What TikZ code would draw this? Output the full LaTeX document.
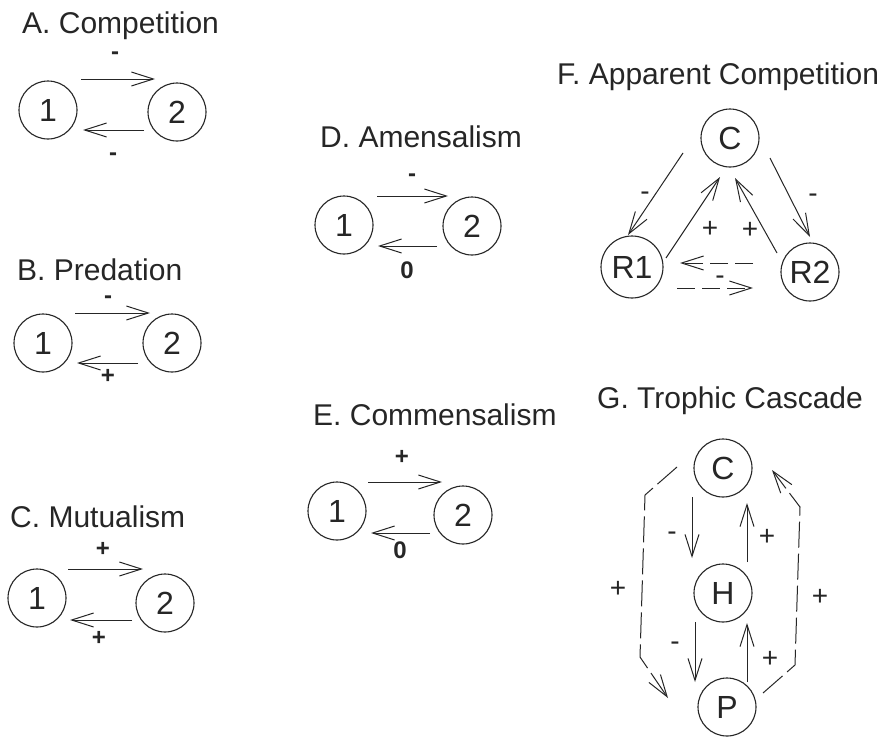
\documentclass[tikz,border=0pt]{standalone}
\usepackage{fontspec}
\setmainfont{Liberation Sans}
\usetikzlibrary{arrows.meta,calc}
\definecolor{ink}{gray}{0.15}
\begin{document}
\begin{tikzpicture}[x=1pt,y=-1pt,
  sp/.style={circle,draw=ink,line width=1.1pt,minimum size=58pt,inner sep=0pt,
             text=ink,font=\fontsize{32}{34}\selectfont},
  ttl/.style={anchor=base west,inner sep=0pt,text=ink,font=\fontsize{30}{32}\selectfont},
  sgn/.style={inner sep=0pt,text height=17pt,text depth=0pt,text=ink,
              font=\bfseries\fontsize{24}{26}\selectfont},
  sgm/.style={sgn,text height=8pt},
  sgnf/.style={inner sep=0pt,text height=20pt,text depth=0pt,text=ink,
               font=\fontsize{28}{30}\selectfont},
  sgmf/.style={sgnf,text height=9pt},
  arr/.style={draw=ink,line width=1pt,
              -{Straight Barb[length=22pt,width=14pt,line width=1pt]}},
  darr/.style={arr,dash pattern=on 18pt off 7pt},
  dgarr/.style={arr,dash pattern=on 26pt off 6pt},
]
\fill[white] (0,0) rectangle (891,742);
\useasboundingbox (0,0) rectangle (891,742);

% ---- A. Competition ----
\node[ttl] (tA) at (22,33) {A. Competition};
\node[sp] (A1) at (48,110) {1};
\node[sp] (A2) at (177,112) {2};
\draw[arr] ($(A1)+(33,-31)$) -- ($(A2)+(-22,-33)$);
\draw[arr] ($(A2)+(-33,18)$) -- ($(A1)+(35,20)$);
\node[sgm] (sA1) at (115,55) {-};
\node[sgm] (sA2) at (113,156) {-};

% ---- B. Predation ----
\node[ttl] (tB) at (17,280) {B. Predation};
\node[sp] (B1) at (43,343) {1};
\node[sp] (B2) at (172,343) {2};
\draw[arr] ($(B1)+(32,-30)$) -- ($(B2)+(-22,-30)$);
\draw[arr] ($(B2)+(-34,20)$) -- ($(B1)+(34,20)$);
\node[sgm] (sB1) at (108,299) {-};
\node[sgn] (sB2) at (108,375) {+};

% ---- C. Mutualism ----
\node[ttl] (tC) at (10,527) {C. Mutualism};
\node[sp] (C1) at (37,598) {1};
\node[sp] (C2) at (165,603) {2};
\draw[arr] ($(C1)+(31,-29)$) -- ($(C2)+(-22,-34)$);
\draw[arr] ($(C2)+(-33,17)$) -- ($(C1)+(33,22)$);
\node[sgn] (sC1) at (103,548) {+};
\node[sgn] (sC2) at (99,637) {+};

% ---- D. Amensalism ----
\node[ttl] (tD) at (320,147) {D. Amensalism};
\node[sp] (D1) at (344,225) {1};
\node[sp] (D2) at (472,226) {2};
\draw[arr] ($(D1)+(33,-29)$) -- ($(D2)+(-24,-30)$);
\draw[arr] ($(D2)+(-35,20)$) -- ($(D1)+(34,21)$);
\node[sgm] (sD1) at (412,177) {-};
\node[sgn] (sD2) at (407,270) {0};

% ---- E. Commensalism ----
\node[ttl] (tE) at (313,425) {E. Commensalism};
\node[sp] (E1) at (337,511) {1};
\node[sp] (E2) at (463,515) {2};
\draw[arr] ($(E1)+(31,-29)$) -- ($(E2)+(-21,-33)$);
\draw[arr] ($(E2)+(-33,18)$) -- ($(E1)+(34,22)$);
\node[sgn] (sE1) at (402,456) {+};
\node[sgn] (sE2) at (400,550) {0};

% ---- F. Apparent Competition ----
\node[ttl] (tF) at (557,84) {F. Apparent Competition};
\node[sp] (FC) at (730,138) {C};
\node[sp,minimum size=62pt] (R1) at (632,267) {R1};
\node[sp] (R2) at (810,272) {R2};
\draw[arr] ($(FC)+(-47,15)$) -- ($(R1)+(-4,-32)$);
\draw[arr] ($(R1)+(34,-9)$) -- ($(FC)+(-10,39)$);
\draw[arr] ($(R2)+(-33,-19)$) -- ($(FC)+(5,40)$);
\draw[arr] ($(FC)+(40,20)$) -- ($(R2)+(0,-35)$);
\draw[darr] ($(R2)+(-57,-9)$) -- ($(R1)+(48,-4)$);
\draw[darr] ($(R1)+(45,21)$) -- ($(R2)+(-57,16)$);
\node[sgmf] (sF1) at (645,196) {-};
\node[sgnf] (sF2) at (710,227) {+};
\node[sgnf] (sF3) at (750,228) {+};
\node[sgmf] (sF4) at (813,198) {-};
\node[sgmf] (sF5) at (720,280) {-};

% ---- G. Trophic Cascade ----
\node[ttl] (tG) at (597,408) {G. Trophic Cascade};
\node[sp] (GC) at (723,468) {C};
\node[sp] (GH) at (723,593) {H};
\node[sp] (GP) at (727,707) {P};
\draw[arr] ($(GC)+(-31,29)$) -- ($(GH)+(-31,-35)$);
\draw[arr] ($(GH)+(24,-31)$) -- ($(GC)+(24,35)$);
\draw[arr] ($(GH)+(-28,29)$) -- ($(GP)+(-32,-25)$);
\draw[arr] ($(GP)+(20,-25)$) -- ($(GH)+(24,30)$);
\coordinate (gl1) at (645,495);
\coordinate (gl2) at (640,657);
\coordinate (gr1) at (795,665);
\coordinate (gr2) at (800,507);
\draw[dgarr] ($(GC)+(-46,-1)$) -- (gl1) -- (gl2) -- ($(GP)+(-59,-9)$);
\draw[dgarr] ($(GP)+(36,-14)$) -- (gr1) -- (gr2) -- ($(GC)+(49,2)$);
\node[sgmf] (sG1) at (672,536) {-};
\node[sgnf] (sG2) at (767,535) {+};
\node[sgmf] (sG3) at (675,646) {-};
\node[sgnf] (sG4) at (770,657) {+};
\node[sgnf] (sG5) at (618,587) {+};
\node[sgnf] (sG6) at (820,595) {+};
\end{tikzpicture}
\end{document}
